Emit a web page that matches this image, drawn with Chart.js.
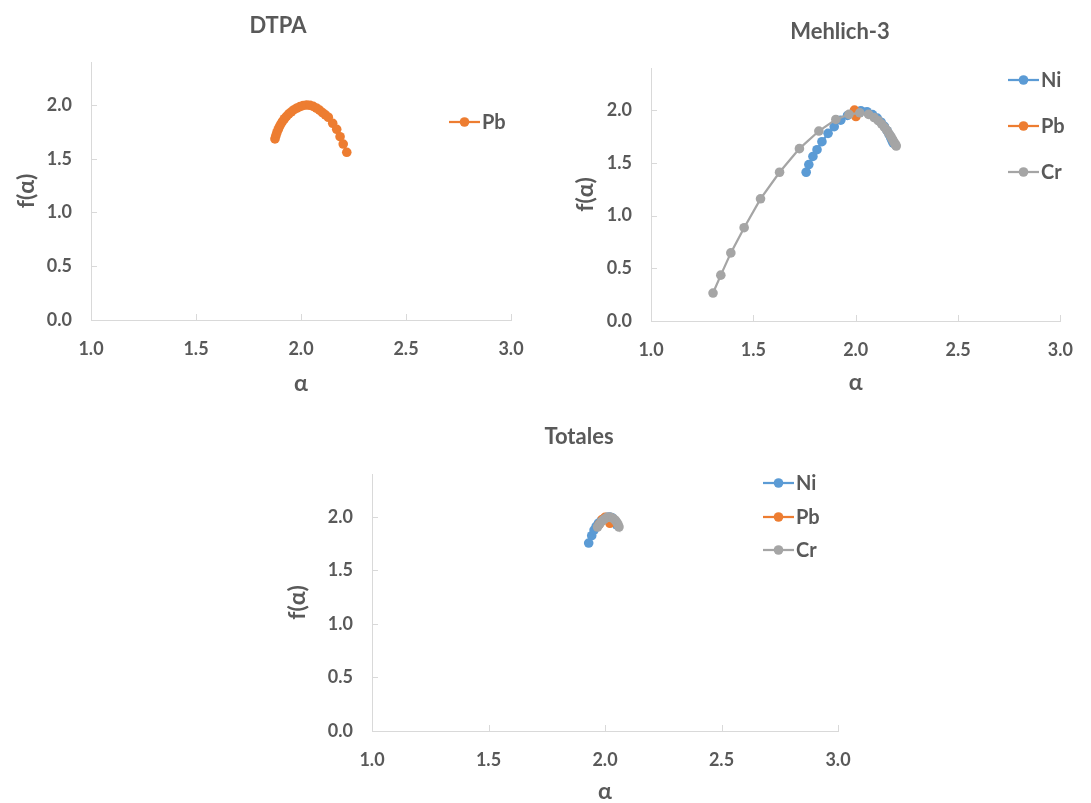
<!DOCTYPE html>
<html>
<head>
<meta charset="utf-8">
<script src="https://cdn.jsdelivr.net/npm/chart.js@4.4.1/dist/chart.umd.min.js"></script>
<style>
  body { margin: 0; background: #fff; }
  canvas { position: absolute; }
</style>
</head>
<body>
<canvas id="dtpa" width="545" height="400" style="left:0;top:0"></canvas>
<canvas id="mehlich" width="546" height="400" style="left:545px;top:0"></canvas>
<canvas id="totales" width="600" height="403" style="left:272px;top:400px"></canvas>
<script>
// ---- data (alpha, f(alpha)) ----
const dtpaPbAlpha = [1.876, 1.880, 1.885, 1.891, 1.897, 1.904, 1.912, 1.921, 1.931, 1.942, 1.954, 1.967, 1.981, 1.996, 2.011, 2.027, 2.043, 2.058, 2.073, 2.088, 2.102, 2.116, 2.130, 2.151, 2.170, 2.186, 2.201, 2.218];
const dtpaPbF     = [1.684, 1.712, 1.742, 1.770, 1.797, 1.823, 1.848, 1.872, 1.895, 1.917, 1.937, 1.956, 1.972, 1.986, 1.996, 2.000, 1.997, 1.988, 1.972, 1.952, 1.930, 1.908, 1.886, 1.830, 1.774, 1.705, 1.637, 1.560];

const mehNiAlpha = [1.758, 1.771, 1.791, 1.811, 1.835, 1.865, 1.895, 1.927, 1.960, 1.993, 2.025, 2.055, 2.082, 2.105, 2.124, 2.140, 2.153, 2.163, 2.171, 2.178, 2.183];
const mehNiF     = [1.411, 1.484, 1.561, 1.625, 1.701, 1.780, 1.843, 1.905, 1.950, 1.985, 1.995, 1.985, 1.958, 1.925, 1.886, 1.846, 1.806, 1.770, 1.738, 1.710, 1.688];
const mehPbAlpha = [1.994, 1.998, 2.001];
const mehPbF     = [2.000, 1.975, 1.940];
const mehCrAlpha = [1.303, 1.341, 1.390, 1.455, 1.535, 1.628, 1.725, 1.820, 1.903, 1.967, 2.020, 2.063, 2.090, 2.110, 2.127, 2.141, 2.153, 2.163, 2.172, 2.179, 2.185, 2.190, 2.194, 2.198];
const mehCrF     = [0.265, 0.435, 0.646, 0.885, 1.159, 1.411, 1.635, 1.802, 1.912, 1.960, 1.975, 1.960, 1.930, 1.900, 1.868, 1.836, 1.805, 1.776, 1.749, 1.725, 1.704, 1.686, 1.672, 1.660];

const totNiAlpha = [1.930, 1.943, 1.953, 1.962, 1.972, 1.984, 1.996, 2.008, 2.020, 2.031, 2.040, 2.046, 2.050];
const totNiF     = [1.755, 1.824, 1.876, 1.910, 1.940, 1.965, 1.983, 1.995, 1.998, 1.990, 1.970, 1.945, 1.925];
const totPbAlpha = [1.975, 1.988, 2.000, 2.012, 2.021];
const totPbF     = [1.930, 1.975, 1.995, 1.985, 1.940];
const totCrAlpha = [1.968, 1.976, 1.985, 1.995, 2.005, 2.015, 2.025, 2.035, 2.044, 2.051, 2.056, 2.060];
const totCrF     = [1.905, 1.930, 1.955, 1.975, 1.990, 1.997, 1.995, 1.985, 1.968, 1.948, 1.927, 1.905];

const xTicks = [1.0, 1.5, 2.0, 2.5, 3.0];
const yTicks = [0.0, 0.5, 1.0, 1.5, 2.0];

const NI = '#5B9BD5', PB = '#ED7D31', CR = '#A5A5A5';
const TEXT = '#595959', AXIS = '#D9D9D9';
const FAMILY = 'Lato, "Open Sans", "DejaVu Sans", sans-serif';

function pts(a, f) {
  return a.map((v, i) => ({ x: v, y: f[i] }));
}

function series(label, a, f, color, order) {
  return {
    label: label,
    data: pts(a, f),
    showLine: true,
    borderColor: color,
    backgroundColor: color,
    borderWidth: 2.25,
    pointRadius: 4.8,
    pointBorderWidth: 0,
    order: order
  };
}

// draws title, legend and inward tick marks like the Excel original
const deco = {
  id: 'deco',
  afterDraw(chart, args, o) {
    const ctx = chart.ctx;
    const xs = chart.scales.x, ys = chart.scales.y;
    ctx.save();
    ctx.strokeStyle = AXIS;
    ctx.lineWidth = 1;
    xs.ticks.forEach(t => {
      const px = Math.round(xs.getPixelForValue(t.value)) + 0.5;
      ctx.beginPath(); ctx.moveTo(px, ys.bottom); ctx.lineTo(px, ys.bottom - 6); ctx.stroke();
    });
    ys.ticks.forEach(t => {
      const py = Math.round(ys.getPixelForValue(t.value)) + 0.5;
      ctx.beginPath(); ctx.moveTo(xs.left, py); ctx.lineTo(xs.left + 6, py); ctx.stroke();
    });

    ctx.fillStyle = TEXT;
    ctx.textAlign = 'center';
    ctx.textBaseline = 'middle';
    ctx.font = 'bold 22px ' + FAMILY;
    ctx.fillText(o.title, o.titleX, o.titleY);

    ctx.textAlign = 'left';
    ctx.font = 'bold 20px ' + FAMILY;
    chart.data.datasets.forEach((ds, i) => {
      const ly = o.legendY[i];
      ctx.strokeStyle = ds.borderColor;
      ctx.lineWidth = 2.25;
      ctx.beginPath(); ctx.moveTo(o.legendX, ly); ctx.lineTo(o.legendX + 31, ly); ctx.stroke();
      ctx.fillStyle = ds.borderColor;
      ctx.beginPath(); ctx.arc(o.legendX + 15.5, ly, 4.8, 0, Math.PI * 2); ctx.fill();
      ctx.fillStyle = TEXT;
      ctx.fillText(ds.label, o.legendX + 33, ly + 1);
    });
    ctx.restore();
  }
};

function build(id, datasets, o) {
  const tickFont = { family: FAMILY, size: 18, weight: 'bold' };
  const titleFont = { family: FAMILY, size: 23, weight: 'bold', lineHeight: 1 };
  return new Chart(document.getElementById(id), {
    type: 'scatter',
    data: { datasets: datasets },
    plugins: [deco],
    options: {
      responsive: false,
      animation: false,
      layout: { padding: o.padding },
      plugins: {
        legend: { display: false },
        tooltip: { enabled: false },
        deco: o
      },
      scales: {
        x: {
          type: 'linear',
          min: 1, max: 3,
          afterBuildTicks: s => { s.ticks = xTicks.map(v => ({ value: v })); },
          afterFit: s => { s.height = o.xHeight; },
          ticks: { color: TEXT, font: tickFont, padding: 18, maxRotation: 0, callback: v => v.toFixed(1) },
          grid: { display: true, drawOnChartArea: false, drawTicks: false },
          border: { color: AXIS, width: 1 },
          title: { display: true, text: 'α', color: TEXT, font: titleFont, padding: { top: 0, bottom: o.xTitlePad } }
        },
        y: {
          type: 'linear',
          min: 0, max: 2.4,
          afterBuildTicks: s => { s.ticks = yTicks.map(v => ({ value: v })); },
          afterFit: s => { s.width = o.yWidth; },
          ticks: { color: TEXT, font: tickFont, padding: 19, callback: v => v.toFixed(1) },
          grid: { display: true, drawOnChartArea: false, drawTicks: false },
          border: { color: AXIS, width: 1 },
          title: { display: true, text: 'f(α)', color: TEXT, font: titleFont, padding: { top: o.yTitlePad, bottom: 0 } }
        }
      }
    }
  });
}

build('dtpa', [
  series('Pb', dtpaPbAlpha, dtpaPbF, PB, 0)
], {
  title: 'DTPA', titleX: 278, titleY: 26,
  legendX: 449, legendY: [122],
  padding: { left: 0, top: 62, right: 34, bottom: 0 },
  yWidth: 91, xHeight: 80, yTitlePad: 15, xTitlePad: 5
});

build('mehlich', [
  series('Ni', mehNiAlpha, mehNiF, NI, 2),
  series('Pb', mehPbAlpha, mehPbF, PB, 1),
  series('Cr', mehCrAlpha, mehCrF, CR, 0)
], {
  title: 'Mehlich-3', titleX: 295, titleY: 32,
  legendX: 463, legendY: [80, 126, 172],
  padding: { left: 0, top: 68, right: 19, bottom: 0 },
  yWidth: 106, xHeight: 79, yTitlePad: 29, xTitlePad: 6
});

build('totales', [
  series('Ni', totNiAlpha, totNiF, NI, 2),
  series('Pb', totPbAlpha, totPbF, PB, 1),
  series('Cr', totCrAlpha, totCrF, CR, 0)
], {
  title: 'Totales', titleX: 307, titleY: 37,
  legendX: 491, legendY: [83, 117, 150],
  padding: { left: 0, top: 74, right: 34, bottom: 0 },
  yWidth: 100, xHeight: 72, yTitlePad: 14, xTitlePad: 0
});
</script>
</body>
</html>
